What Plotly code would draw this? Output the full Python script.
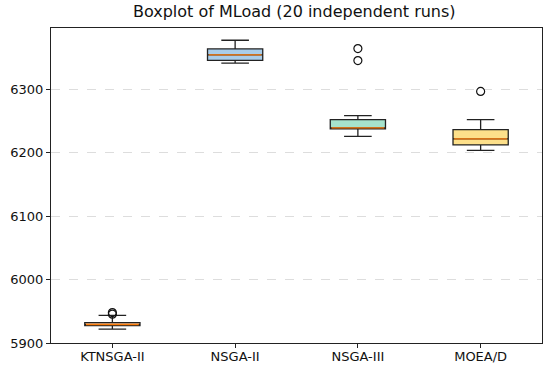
import plotly.graph_objects as go

categories = ["KTNSGA-II", "NSGA-II", "NSGA-III", "MOEA/D"]
lower_fence = [5922, 6341.5, 6226, 6204]
q1_vals = [5927.3, 6346, 6237.8, 6212.5]
median_vals = [5929, 6354.6, 6239.4, 6222]
q3_vals = [5932, 6364, 6252.5, 6236.7]
upper_fence = [5943.6, 6377.7, 6258.8, 6252.5]
outlier_cats = ["KTNSGA-II", "KTNSGA-II", "NSGA-III", "NSGA-III", "MOEA/D"]
outlier_vals = [5948, 5945.5, 6364.6, 6345.6, 6297]
fill_colors = ["#f9b57a", "#a9cdea", "#a6e3cc", "#fde08a"]

fig = go.Figure()
for i, c in enumerate(categories):
    fig.add_trace(go.Box(
        x=[c], q1=[q1_vals[i]], median=[median_vals[i]], q3=[q3_vals[i]],
        lowerfence=[lower_fence[i]], upperfence=[upper_fence[i]],
        fillcolor=fill_colors[i], line=dict(color="#222222", width=1.3),
        width=0.45, whiskerwidth=0.5, boxpoints=False, showlegend=False,
        hoverinfo="skip",
    ))
    # median line in orange
    fig.add_trace(go.Box(
        x=[c], q1=[median_vals[i]], median=[median_vals[i]], q3=[median_vals[i]],
        lowerfence=[median_vals[i]], upperfence=[median_vals[i]],
        fillcolor="rgba(0,0,0,0)", line=dict(color="#ff7f0e", width=1.3),
        width=0.43, whiskerwidth=0, boxpoints=False, showlegend=False,
        hoverinfo="skip",
    ))

fig.add_trace(go.Scatter(
    x=outlier_cats, y=outlier_vals, mode="markers",
    marker=dict(symbol="circle-open", size=8, color="#111111", line=dict(width=1.2)),
    showlegend=False, hoverinfo="skip",
))

fig.update_layout(
    width=550, height=371,
    margin=dict(l=51, r=8, t=28, b=28, autoexpand=False),
    paper_bgcolor="white", plot_bgcolor="white",
    boxmode="overlay",
    font=dict(family="DejaVu Sans", size=13, color="#111111"),
    title=dict(text="Boxplot of MLoad (20 independent runs)", x=0.535, xanchor="center",
               y=0.984, yanchor="top", font=dict(size=16, color="#111111"),
               automargin=False),
)
fig.update_xaxes(
    categoryorder="array", categoryarray=categories, range=[-0.5, 3.5],
    showline=True, linecolor="#222222", linewidth=1, mirror=True,
    ticks="outside", ticklen=4, tickcolor="#222222", showgrid=False,
    tickfont=dict(size=13), automargin=False, ticklabelstandoff=-3,
)
fig.update_yaxes(
    range=[5900, 6397], tickvals=[5900, 6000, 6100, 6200, 6300],
    showline=True, linecolor="#222222", linewidth=1, mirror=True,
    ticks="outside", ticklen=4, tickcolor="#222222",
    showgrid=True, gridcolor="#dddddd", griddash="dash", gridwidth=1,
    zeroline=False, tickfont=dict(size=13), automargin=False,
)

fig.write_html("out.html", config={"displayModeBar": False},
               post_script="document.body.style.margin='0';")
